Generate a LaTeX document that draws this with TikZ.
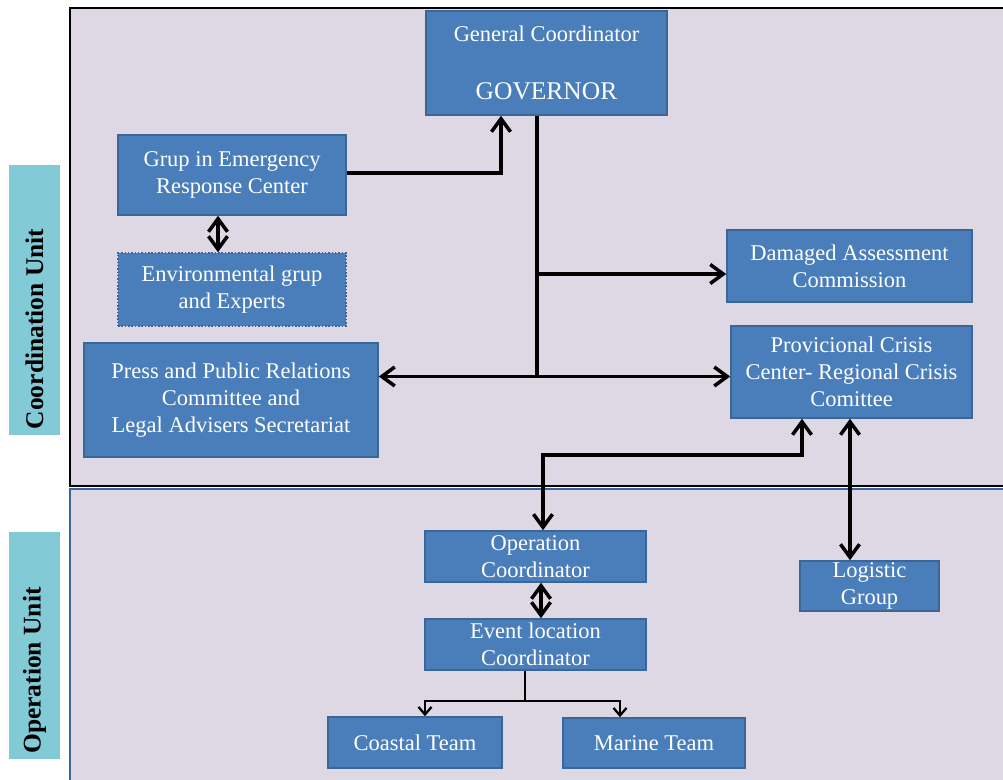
\documentclass[tikz,border=0pt]{standalone}
\usepackage{fontspec}
\setmainfont{Liberation Serif}
\usetikzlibrary{arrows.meta, positioning}
\definecolor{unitbg}{HTML}{DDD8E4}
\definecolor{boxblue}{HTML}{4A7EBB}
\definecolor{boxedge}{HTML}{3A6798}
\definecolor{tabcyan}{HTML}{82CAD6}

\begin{document}
\begin{tikzpicture}[
    every node/.style={font=\fontsize{12.8}{15.5}\selectfont},
    box/.style={draw=boxedge, fill=boxblue, text=white, line width=0.9pt, align=center, inner sep=0pt},
    unit/.style={fill=tabcyan, rotate=90, inner sep=0pt, font=\bfseries\fontsize{14.5}{17}\selectfont},
    link/.style={line width=2pt},
    arrow/.style={link, -{Straight Barb[length=2.6mm, width=3.8mm]}},
    darrow/.style={link, {Straight Barb[length=2.6mm, width=3.8mm]}-{Straight Barb[length=2.6mm, width=3.8mm]}},
    tarrow/.style={line width=1.3pt, -{Straight Barb[length=1.5mm, width=2.6mm]}},
]
\useasboundingbox (0,0) rectangle (20.06,15.58);

% the two unit bands
\draw[draw=boxedge, line width=1pt, fill=unitbg] (1.40,-0.2) rectangle (20.3,5.80);
\draw[line width=1.4pt, fill=unitbg] (1.40,5.86) rectangle (20.3,15.42);
\node[unit, minimum width=5.40cm, minimum height=1.02cm] (coordlbl) at (0.69,9.58) {Coordination Unit\hspace*{1.16cm}};
\node[unit, minimum width=4.54cm, minimum height=1.02cm] (oplbl) at (0.69,2.67) {Operation Unit\hspace*{1.0cm}};

% coordination unit
\node[box, minimum width=4.82cm, minimum height=2.08cm] (gov) at (10.93,14.32) {General Coordinator\\[17.5pt]{\fontsize{14.5}{17}\selectfont GOVERNOR}};
\node[box, minimum width=4.56cm, minimum height=1.60cm] (grup) at (4.64,12.08) {Grup in Emergency\\Response Center};
\node[box, densely dotted, minimum width=4.56cm, minimum height=1.46cm] (env) at (4.64,9.79) {Environmental grup\\and Experts};
\node[box, minimum width=5.88cm, minimum height=2.28cm] (press) at (4.62,7.58) {Press and Public Relations\\Committee and\\Legal Advisers Secretariat};
\node[box, minimum width=4.90cm, minimum height=1.44cm] (damage) at (16.99,10.26) {Damaged Assessment\\Commission};
\node[box, minimum width=4.82cm, minimum height=1.84cm] (crisis) at (17.03,8.14) {Provicional Crisis\\Center- Regional Crisis\\Comittee};

% operation unit
\node[box, minimum width=4.42cm, minimum height=1.02cm] (opco) at (10.71,4.45) {Operation\\Coordinator};
\node[box, minimum width=4.42cm, minimum height=1.02cm] (event) at (10.71,2.69) {Event location\\Coordinator};
\node[box, minimum width=2.78cm, minimum height=1.00cm] (logistic) at (17.39,3.86) {Logistic\\Group};
\node[box, minimum width=3.48cm, minimum height=1.02cm] (coastal) at (8.30,0.73) {Coastal Team};
\node[box, minimum width=3.64cm, minimum height=1.00cm] (marine) at (13.08,0.72) {Marine Team};

% links
\coordinate (trunk) at ([xshift=-0.19cm]gov.south);
\coordinate (hub) at ([yshift=-0.09cm]crisis.west -| trunk);
\draw[arrow] ([yshift=0.04cm]grup.east) -| ([xshift=-0.91cm]gov.south);
\draw[link] (trunk) -- (hub);
\draw[arrow] ([yshift=-0.16cm]damage.west -| trunk) -- ([yshift=-0.16cm]damage.west);
\draw[darrow] (press.east |- hub) -- (crisis.west |- hub);
\draw[darrow] ([xshift=-0.28cm]grup.south) -- ([xshift=-0.28cm]env.north);
\draw[darrow] ([xshift=0.15cm]opco.north) -- ++(0,1.5) -| ([xshift=-0.99cm]crisis.south);
\draw[darrow] ([xshift=-0.39cm]logistic.north) -- ([xshift=-0.39cm]logistic.north |- crisis.south);
\draw[darrow] ([xshift=0.11cm]event.north) -- ([xshift=0.11cm]opco.south);
\draw[tarrow] ([xshift=-0.21cm]event.south) -- ++(0,-0.6) -| ([xshift=0.2cm]coastal.north);
\draw[tarrow] ([xshift=-0.21cm]event.south) -- ++(0,-0.6) -| ([xshift=-0.68cm]marine.north);
\end{tikzpicture}
\end{document}
